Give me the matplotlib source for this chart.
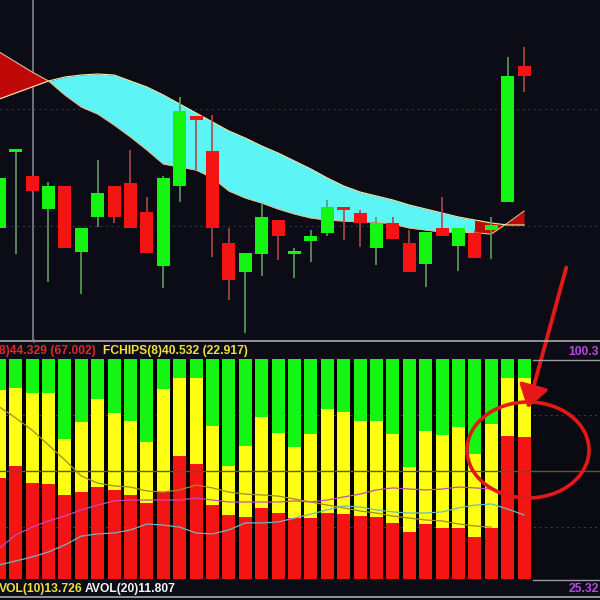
import matplotlib
matplotlib.use("Agg")
import matplotlib.pyplot as plt
import numpy as np
from matplotlib.patches import FancyArrowPatch, Ellipse

# ---------------- data ----------------
# candles (oldest first; the first one is cut by the left edge)
opens  = [5.44, 6.97, 6.48, 5.82, 6.28, 4.96, 5.66, 6.28, 6.34, 5.76, 4.68, 6.28, 7.68, 6.98, 5.14, 4.56,
          4.92, 5.60, 4.92, 5.18, 5.34, 5.86, 5.74, 5.04, 5.54, 5.14, 4.72, 5.44, 5.08, 5.34, 5.40, 5.96, 8.68]
highs  = [6.56, 6.98, 6.48, 6.36, 6.28, 5.44, 6.80, 6.28, 7.00, 6.06, 6.48, 8.06, 7.68, 7.70, 5.44, 4.94,
          5.94, 5.60, 5.04, 5.40, 6.00, 5.86, 5.80, 5.66, 5.66, 5.40, 5.36, 6.06, 5.44, 5.40, 5.66, 8.86, 9.06]
lows   = [5.36, 4.92, 6.18, 4.36, 5.04, 4.12, 5.46, 5.54, 5.44, 4.94, 4.24, 5.96, 6.60, 4.86, 4.00, 3.34,
          4.48, 4.80, 4.44, 4.76, 5.28, 5.20, 5.06, 4.70, 5.22, 4.56, 4.26, 5.28, 4.58, 4.84, 4.82, 5.96, 8.16]
closes = [6.44, 6.98, 6.18, 6.28, 5.04, 5.44, 6.14, 5.66, 5.44, 4.94, 6.44, 7.78, 7.60, 5.44, 4.40, 4.94,
          5.66, 5.28, 4.98, 5.28, 5.86, 5.80, 5.54, 5.54, 5.22, 4.56, 5.36, 5.28, 5.44, 4.84, 5.50, 8.48, 8.48]

# the two averages that bound the cloud
line_a = [8.96, 8.76, 8.56, 8.38, 8.10, 7.86, 7.72, 7.50, 7.26, 7.00, 6.72, 6.66, 6.60, 6.44, 6.18, 6.04,
          5.94, 5.82, 5.72, 5.64, 5.60, 5.58, 5.56, 5.56, 5.52, 5.44, 5.40, 5.36, 5.36, 5.34, 5.32, 5.54, 5.78]
line_b = [8.02, 8.14, 8.26, 8.38, 8.46, 8.50, 8.52, 8.50, 8.38, 8.26, 8.10, 7.92, 7.74, 7.56, 7.38, 7.24,
          7.08, 6.94, 6.78, 6.62, 6.44, 6.28, 6.16, 6.08, 6.00, 5.90, 5.82, 5.74, 5.66, 5.60, 5.54, 5.50, 5.50]
cloud_end = 30          # last bar of the filled cloud; afterwards the projection is red
price_grid = [7.82, 5.48]
cursor_bar = 2

# chip distribution (percent of each bar)
red_pct    = [45.9, 51.4, 43.6, 43.2, 38.2, 39.5, 41.8, 40.5, 38.2, 34.5, 39.5, 55.9, 52.3, 33.6, 29.1, 28.2,
              32.3, 30.0, 27.7, 27.7, 30.0, 29.5, 28.6, 28.2, 25.5, 21.4, 25.0, 23.2, 23.2, 19.1, 23.2, 65.0, 64.5]
yellow_pct = [40.0, 35.4, 40.9, 41.3, 25.4, 31.9, 40.0, 35.0, 33.6, 27.8, 46.9, 35.5, 39.1, 35.9, 22.3, 32.3,
              41.3, 36.4, 32.3, 38.2, 47.3, 46.4, 43.2, 43.6, 40.4, 29.5, 42.3, 42.3, 45.9, 37.7, 47.3, 26.4, 26.9]
olive_line = [78.2, 73.2, 67.7, 60.9, 54.1, 46.8, 43.6, 42.3, 41.8, 40.0, 39.5, 40.5, 42.7, 41.4, 39.5, 38.6,
              38.2, 37.7, 36.4, 35.0, 33.6, 32.3, 30.9, 30.0, 28.6, 27.7, 26.8, 26.4, 25.0, 24.1, 23.6]
magenta_line = [14.0, 20.0, 23.6, 26.4, 28.6, 31.4, 33.6, 35.5, 35.9, 35.9, 35.9, 35.9, 36.8, 35.9, 35.0, 35.0,
                35.0, 35.0, 35.5, 35.0, 35.9, 37.3, 38.6, 40.5, 41.4, 40.9, 40.5, 40.9, 41.8, 41.4, 40.9]
blue_line = [6.4, 8.2, 10.0, 12.3, 15.5, 19.5, 20.5, 20.9, 22.3, 25.0, 24.5, 23.6, 20.9, 20.5, 22.3, 25.5,
             25.5, 25.9, 27.7, 29.5, 31.4, 33.2, 32.7, 31.4, 30.5, 30.0, 30.0, 30.5, 32.3, 33.6, 34.1, 31.8, 29.1]
mid_level = 49.1
chip_grid = [74.5, 23.6]

header_red = "8)44.329 (67.002)"
header_yel = "FCHIPS(8)40.532 (22.917)"
footer_yel = "VOL(10)13.726"
footer_wht = "AVOL(20)11.807"
scale_top = "100.3"
scale_bot = "25.32"

# ---------------- styling ----------------
BG = "#0c0c17"
C_GREEN = "#14f514"
C_RED = "#f51414"
C_YEL = "#ffff14"
C_CYAN = "#5cf4f4"
C_CLOUD_RED = "#bf0808"
FONT = "Liberation Sans"

W = H = 600
fig = plt.figure(figsize=(6, 6), dpi=100, facecolor=BG)

def frect(x0, y0, x1, y1):
    return [x0 / W, 1 - y1 / H, (x1 - x0) / W, (y1 - y0) / H]

xl = (0.7 / 16.4, 600.7 / 16.4)
n = len(opens)
x = np.arange(n)

# ---------- upper price panel ----------
ax = fig.add_axes(frect(0, 0, 600, 340))
ax.set_facecolor(BG)
ax.set_xlim(*xl)
ax.set_ylim(3.2, 10.0)
for lv in price_grid:
    ax.axhline(lv, color="#34343f", lw=0.8, ls=(0, (2, 3)), zorder=1)
ax.axvline(cursor_bar + 0.07, color="#8a8a94", lw=1.1, zorder=1)

a = np.array(line_a); b = np.array(line_b)
xs = x[:cloud_end]
ax.fill_between(xs, a[:cloud_end], b[:cloud_end], where=b[:cloud_end] >= a[:cloud_end],
                interpolate=True, color=C_CYAN, lw=0, zorder=2)
ax.fill_between(xs, a[:cloud_end], b[:cloud_end], where=a[:cloud_end] >= b[:cloud_end],
                interpolate=True, color=C_CLOUD_RED, lw=0, zorder=2)
ax.fill_between(x[cloud_end - 1:], a[cloud_end - 1:], b[cloud_end - 1:], color=C_CLOUD_RED, lw=0, zorder=2)
ax.plot(x, a, color="#e8b890", lw=0.8, zorder=3)
ax.plot(x, b, color="#f0f0b0", lw=0.8, zorder=3)

for i in range(n):
    o, h, l, c = opens[i], highs[i], lows[i], closes[i]
    up = c >= o
    body = C_GREEN if up else C_RED
    wick = "#5f9a5f" if up else "#b04848"
    ax.vlines(x[i], l, h, color=wick, lw=1.2, zorder=4)
    lo, hi = min(o, c), max(o, c)
    ax.bar(x[i], max(hi - lo, 0.06), bottom=lo, width=0.8, color=body, lw=0, zorder=5)

ax.set_xticks([]); ax.set_yticks([])
for s in ax.spines.values():
    s.set_visible(False)

# ---------- lower chip panel ----------
ax2 = fig.add_axes(frect(0, 359, 600, 579))
ax2.set_facecolor("#0a0a12")
ax2.set_xlim(*xl)
ax2.set_ylim(0, 100)
ax2.axvspan(-1, n - 0.45, color="black", lw=0, zorder=0)
for lv in chip_grid:
    ax2.axhline(lv, color="#3a3a44", lw=0.8, ls=(0, (2, 3)), zorder=0.5)
red = np.array(red_pct); yel = np.array(yellow_pct)
grn = 100 - red - yel
ax2.bar(x, red, width=0.8, color=C_RED, lw=0, zorder=2)
ax2.bar(x, yel, bottom=red, width=0.8, color=C_YEL, lw=0, zorder=2)
ax2.bar(x, grn, bottom=red + yel, width=0.8, color=C_GREEN, lw=0, zorder=2)
ax2.axhline(mid_level, color="#5a5a28", lw=1.0, zorder=3)
ax2.plot(x[:len(olive_line)], olive_line, color="#a08a2a", lw=0.9, zorder=4)
ax2.plot(x[:len(magenta_line)], magenta_line, color="#c050b0", lw=0.9, zorder=4)
ax2.plot(x[:len(blue_line)], blue_line, color="#70b8b8", lw=0.9, zorder=4)
ax2.set_xticks([]); ax2.set_yticks([])
for s in ax2.spines.values():
    s.set_visible(False)

# ---------- frame lines ----------
def hline(y, x0=0, x1=600, color="#a8a8b0", lw=1.2):
    fig.add_artist(plt.Line2D([x0 / W, x1 / W], [1 - y / H, 1 - y / H], color=color, lw=lw,
                              transform=fig.transFigure))
hline(341)
hline(359.5, 533, 600, color="#9a9aa4", lw=1.0)
hline(579.5, 533, 600, color="#9a9aa4", lw=1.0)
hline(597)
fig.add_artist(plt.Line2D([33.5 / W, 33.5 / W], [1 - 340 / H, 1 - 342 / H], color="#8a8a94", lw=1.1,
                          transform=fig.transFigure))

# ---------- texts ----------
def ftext(px, py, s, color, ha="left"):
    fig.text(px / W, 1 - py / H, s, color=color, fontsize=8.7, fontweight="bold", family=FONT,
             ha=ha, va="center")
ftext(-1, 351, header_red, "#e02828")
ftext(103, 351, header_yel, "#f0e040")
ftext(599, 352, scale_top, "#b848e0", ha="right")
ftext(-1, 589, footer_yel, "#f0e040")
ftext(85, 589, footer_wht, "#f4f4f4")
ftext(599, 589, scale_bot, "#b848e0", ha="right")

# ---------- red annotation ----------
arrow = FancyArrowPatch((567 / W, 1 - 265 / H), (527 / W, 1 - 411 / H), transform=fig.transFigure,
                        arrowstyle="-|>,head_length=0.9,head_width=0.6", mutation_scale=15,
                        color="#e41818", lw=2.8)
fig.add_artist(arrow)
ell = Ellipse((528 / W, 1 - 450 / H), 122 / W, 96 / H, transform=fig.transFigure, fill=False,
              edgecolor="#e41818", lw=2.6)
fig.add_artist(ell)

fig.savefig("out.png", dpi=100, facecolor=BG)
